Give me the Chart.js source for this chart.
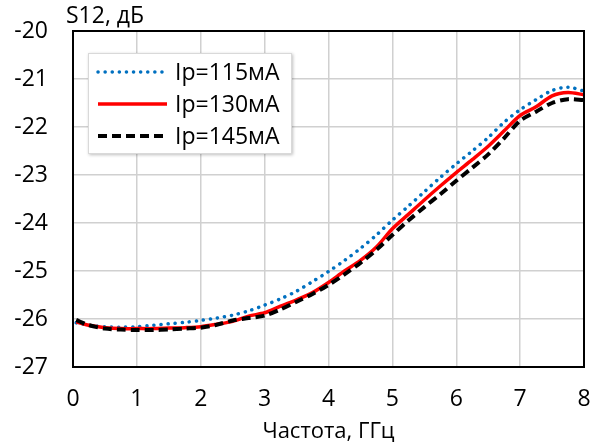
<!DOCTYPE html>
<html>
<head>
<meta charset="utf-8">
<script src="https://cdn.jsdelivr.net/npm/chart.js@4.4.1/dist/chart.umd.min.js"></script>
<style>
  html, body { margin: 0; padding: 0; background: #fff; }
  #wrap { width: 596px; height: 445px; }
</style>
</head>
<body>
<div id="wrap"><canvas id="s12Chart" width="596" height="445"></canvas></div>
<script>
// частота, ГГц
const freq = [0.05, 0.25, 0.5, 0.75, 1, 1.25, 1.5, 1.75, 2, 2.25, 2.5, 2.75, 3, 3.25, 3.5, 3.75,
              4, 4.25, 4.5, 4.75, 5, 5.25, 5.5, 5.75, 6, 6.25, 6.5, 6.75, 7, 7.25, 7.5, 7.75, 8];

// S12, дБ
const s12_115 = [-26.08, -26.13, -26.16, -26.17, -26.16, -26.13, -26.10, -26.07, -26.03, -25.98, -25.92, -25.83,
                 -25.71, -25.58, -25.42, -25.22, -25.01, -24.78, -24.53, -24.25, -23.94, -23.65, -23.35, -23.05,
                 -22.77, -22.50, -22.22, -21.90, -21.64, -21.43, -21.24, -21.17, -21.25];
const s12_130 = [-26.06, -26.13, -26.18, -26.20, -26.20, -26.20, -26.19, -26.18, -26.16, -26.11, -26.05, -25.94,
                 -25.87, -25.73, -25.60, -25.45, -25.24, -25.00, -24.78, -24.50, -24.12, -23.82, -23.52, -23.23,
                 -22.95, -22.68, -22.40, -22.08, -21.76, -21.58, -21.35, -21.28, -21.33];
const s12_145 = [-26.02, -26.13, -26.20, -26.22, -26.23, -26.23, -26.22, -26.20, -26.18, -26.12, -26.03, -25.98,
                 -25.93, -25.80, -25.64, -25.48, -25.29, -25.07, -24.83, -24.56, -24.25, -23.95, -23.67, -23.40,
                 -23.12, -22.85, -22.57, -22.23, -21.87, -21.68, -21.50, -21.42, -21.44];

const seriesNames = ['Ip=115мА', 'Ip=130мА', 'Ip=145мА'];
const xTicks = [0, 1, 2, 3, 4, 5, 6, 7, 8];
const yTicks = [-27, -26, -25, -24, -23, -22, -21, -20];

const FONT = "'Open Sans', 'Noto Sans', 'DejaVu Sans', sans-serif";

function puntos(ys) {
    return freq.map((f, i) => ({ x: f, y: ys[i] }));
}

// рамка вокруг области графика, подпись оси Y и легенда внутри
const extras = {
    id: 'extras',
    afterDraw(chart) {
        const ctx = chart.ctx;
        const a = chart.chartArea;
        ctx.save();
        ctx.strokeStyle = '#000';
        ctx.lineWidth = 2;
        ctx.strokeRect(a.left, a.top, a.right - a.left, a.bottom - a.top);

        ctx.fillStyle = '#000';
        ctx.font = '23px ' + FONT;
        ctx.textAlign = 'left';
        ctx.textBaseline = 'middle';
        ctx.fillText('S12, дБ', a.left - 7, 16);

        // легенда
        const bx = 88, by = 53, bw = 204, bh = 101;
        ctx.shadowColor = 'rgba(0,0,0,0.25)';
        ctx.shadowBlur = 3;
        ctx.shadowOffsetX = 1;
        ctx.shadowOffsetY = 1;
        ctx.fillStyle = '#fff';
        ctx.fillRect(bx, by, bw, bh);
        ctx.shadowColor = 'transparent';
        ctx.strokeStyle = '#d9d9d9';
        ctx.lineWidth = 1;
        ctx.strokeRect(bx + 0.5, by + 0.5, bw - 1, bh - 1);

        const rows = [72, 104, 136];
        chart.data.datasets.forEach((ds, i) => {
            const y = rows[i];
            ctx.beginPath();
            ctx.strokeStyle = ds.borderColor;
            ctx.lineWidth = ds.borderWidth;
            ctx.lineCap = ds.borderCapStyle || 'butt';
            ctx.setLineDash(ds.borderDash || []);
            ctx.moveTo(98, y);
            ctx.lineTo(167, y);
            ctx.stroke();
            ctx.setLineDash([]);
            ctx.fillStyle = '#000';
            ctx.font = '23px ' + FONT;
            ctx.textAlign = 'left';
            ctx.textBaseline = 'middle';
            ctx.fillText(ds.label, 175, y + 1);
        });
        ctx.restore();
    }
};

const data = {
    datasets: [{
            label: seriesNames[0],
            data: puntos(s12_115),
            borderColor: '#0070c0',
            borderWidth: 3.5,
            borderDash: [0.1, 7],
            borderCapStyle: 'round',
            order: 2
        },
        {
            label: seriesNames[1],
            data: puntos(s12_130),
            borderColor: '#ff0000',
            borderWidth: 3.5,
            order: 1
        },
        {
            label: seriesNames[2],
            data: puntos(s12_145),
            borderColor: '#000000',
            borderWidth: 4,
            borderDash: [9, 5],
            order: 0
        }
    ]
};

const config = {
    type: 'scatter',
    data: data,
    options: {
        responsive: false,
        animation: false,
        showLine: true,
        elements: {
            point: { radius: 0, hoverRadius: 0 },
            line: { tension: 0.3, fill: false }
        },
        layout: {
            padding: { top: 31, right: 12, left: 0, bottom: 0 }
        },
        scales: {
            x: {
                type: 'linear',
                min: 0,
                max: 8,
                afterBuildTicks: (s) => { s.ticks = xTicks.map(v => ({ value: v })); },
                afterFit: (s) => {
                    s.height = 78;
                    s.paddingLeft = 0;
                    s.paddingRight = 0;
                },
                grid: { color: '#d0d0d0', lineWidth: 1.5, drawTicks: false },
                border: { display: false },
                ticks: {
                    color: '#000',
                    padding: 19,
                    maxRotation: 0,
                    font: { family: FONT, size: 23 }
                },
                title: {
                    display: true,
                    text: 'Частота, ГГц',
                    color: '#000',
                    padding: { top: 0, bottom: 0 },
                    font: { family: FONT, size: 22 }
                }
            },
            y: {
                type: 'linear',
                min: -27,
                max: -20,
                afterBuildTicks: (s) => { s.ticks = yTicks.map(v => ({ value: v })); },
                afterFit: (s) => {
                    s.width = 73;
                    s.paddingTop = 0;
                    s.paddingBottom = 0;
                },
                grid: { color: '#d0d0d0', lineWidth: 1.5, drawTicks: false },
                border: { display: false },
                ticks: {
                    color: '#000',
                    padding: 25,
                    font: { family: FONT, size: 23 }
                }
            }
        },
        plugins: {
            legend: { display: false },
            tooltip: { enabled: false }
        }
    },
    plugins: [extras]
};

window.onload = function() {
    const ctx = document.getElementById('s12Chart').getContext('2d');
    new Chart(ctx, config);
};
</script>
</body>
</html>
